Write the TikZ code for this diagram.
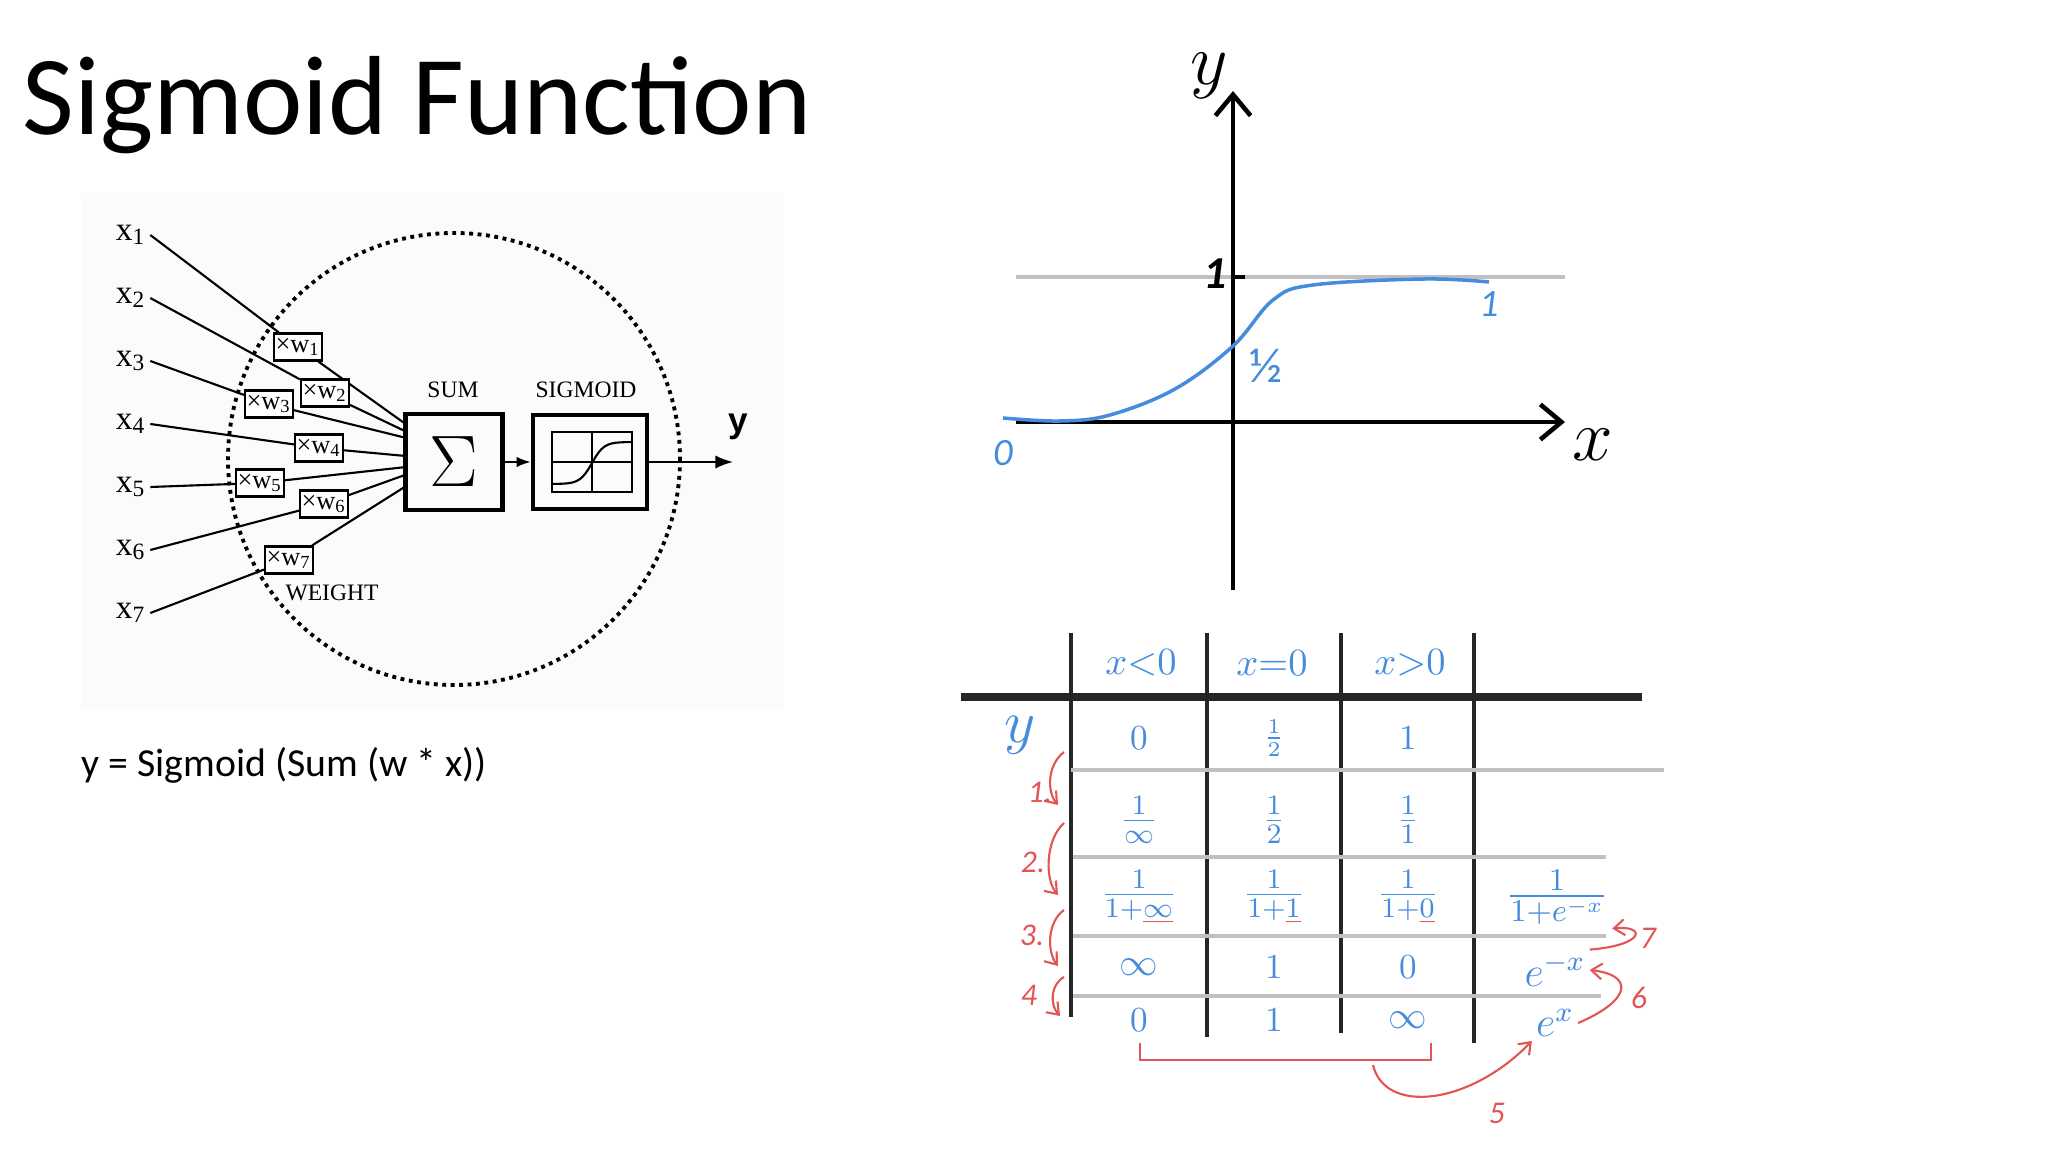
\documentclass[tikz,border=0pt]{standalone}
\usepackage{amsmath,amssymb}
\usepackage{fontspec}
\usepackage{tikz}
\usepackage{xcolor}
\usetikzlibrary{arrows.meta}
\setmainfont{Carlito}
\newfontfamily\netfont{Liberation Serif}
\newfontfamily\netsans{Liberation Sans}
\definecolor{handblue}{RGB}{70,140,220}
\definecolor{handred}{RGB}{225,85,85}
\definecolor{rulegray}{RGB}{192,192,192}
\newcommand{\redul}[1]{{\color{handred}\underline{{\color{handblue}#1}}}}

\begin{document}
\begin{tikzpicture}[x=0.01cm, y=-0.01cm,
    inp/.style={font=\netfont\fontsize{9.5}{10}\selectfont, inner sep=1pt},
    wbox/.style={draw, fill=white, semithick, font=\netfont\fontsize{7.5}{8}\selectfont,
        inner sep=0pt, minimum width=0.48cm, minimum height=0.27cm},
    caps/.style={font=\netfont\fontsize{6.7}{7}\selectfont},
    hand/.style={text=handblue, font=\fontsize{10}{11}\selectfont, inner sep=1pt},
    redarr/.style={handred, semithick, -{Straight Barb[length=3pt,width=4.5pt]}},
    redlbl/.style={text=handred, font=\fontsize{9}{9}\selectfont\itshape}]
\useasboundingbox (0,0) rectangle (2048,1152);

% Title
\node[anchor=base west, inner sep=0pt, font=\fontsize{32}{36}\selectfont] (title) at (22,135) {Sigmoid Function};

% Panel A: neuron
\begin{scope}
    \fill[black!1.5] (81,193) rectangle (784,709);
    \draw[line width=1.1pt, dash pattern=on 1.1pt off 1.3pt] (454,459) circle [radius=226];

    \node[draw, line width=1.3pt, minimum width=0.97cm, minimum height=0.96cm, inner sep=0pt,
        font=\fontsize{20}{20}\selectfont] (sum) at (454,462) {$\Sigma$};
    \node[draw, line width=1.3pt, minimum width=1.14cm, minimum height=0.94cm] (sig) at (590,462) {};
    \node[caps] (sumlbl) at (453,390) {SUM};
    \node[caps] (siglbl) at (586,390) {SIGMOID};

    % little plot in the sigmoid box
    \begin{scope}[shift={(sig.center)}]
        \draw (-38,-30) rectangle (42,30);
        \draw (2,-30) -- (2,30);
        \draw (-38,0) -- (42,0);
        \draw[semithick, domain=-37:41, samples=40] plot (\x, {22-42/(1+exp(-(\x-2)/6))});
    \end{scope}

    % inputs and weights
    \foreach \i/\px/\py/\a in {1/298/347/142, 2/325/393/148, 3/269/404/154, 4/319/448/173,
                               5/260/483/186, 6/324/504/195, 7/289/560/207}{
        \node[inp] (x\i) at (131,{235+63*(\i-1)}) {x\textsubscript{\i}};
        \node[wbox] (w\i) at (\px,\py) {×w\textsubscript{\i}};
        \draw[semithick] (x\i.east) -- (w\i) -- (sum.\a);
    }
    \node[caps] (wlbl) at (332,593) {WEIGHT};

    \draw[semithick, -{Latex[length=4pt]}] (sum) -- (sig);
    \coordinate (yend) at (733,462);
    \draw[semithick, -{Latex[length=5pt]}] (sig) -- (yend);
    \node[font=\netsans\bfseries\fontsize{10}{10}\selectfont] (yout) at (738,427) {y};

    \node[anchor=west, inner sep=0pt, font=\fontsize{11.3}{13}\selectfont] (formula) at (81,765)
        {y = Sigmoid (Sum (w * x))};
\end{scope}

% Panel B: hand-drawn sigmoid
\begin{scope}
    \draw[rulegray, line width=1pt] (1016,277) -- (1565,277);
    \draw[line width=1.3pt, -{Straight Barb[length=6pt,width=10pt]}] (1233,590) -- (1233,91);
    \draw[line width=1.3pt, -{Straight Barb[length=6pt,width=10pt]}] (1016,422) -- (1565,422);
    \draw[line width=1pt] (1233,277) -- (1245,277);
    \node[font=\fontsize{20}{20}\selectfont] (ylab) at (1209,76) {$y$};
    \node[font=\fontsize{22}{22}\selectfont] (xlab) at (1593,445) {$x$};
    \node[font=\bfseries\fontsize{13}{13}\selectfont] (one) at (1215,274) {\textit{1}};

    \draw[handblue, line width=1pt] plot[smooth, tension=0.6] coordinates
        {(1003,418) (1060,421) (1110,415) (1175,389) (1233,346) (1273,300) (1313,285) (1424,279) (1489,282)};
    \node[hand, font=\fontsize{11}{11}\selectfont] (lo) at (1003,453) {\textit{0}};
    \node[hand, font=\fontsize{11}{11}\selectfont] (hi) at (1489,304) {\textit{1}};
    \node[hand, font=\fontsize{14}{14}\selectfont] (half) at (1266,366) {½};
\end{scope}

% Panel C: table
\begin{scope}
    \draw[line width=2pt, black!85] (961,697) -- (1642,697);
    \foreach \x/\yb in {1071/1017, 1207/1037, 1341/1033, 1474/1043}
        \draw[line width=1.3pt, black!85] (\x,633) -- (\x,\yb);
    \draw[rulegray, line width=1pt] (1071,770) -- (1664,770);
    \draw[rulegray, line width=1pt] (1073,857) -- (1606,857);
    \draw[rulegray, line width=1pt] (1073,936) -- (1606,936);
    \draw[rulegray, line width=1pt] (1073,996) -- (1601,996);

    % header
    \node[hand, font=\fontsize{11}{11}\selectfont] (h1) at (1141,663) {$x{<}0$};
    \node[hand, font=\fontsize{11}{11}\selectfont] (h2) at (1272,663) {$x{=}0$};
    \node[hand, font=\fontsize{11}{11}\selectfont] (h3) at (1410,663) {$x{>}0$};
    \node[hand, font=\fontsize{16}{16}\selectfont] (yrow) at (1020,735) {$y$};

    % rows
    \node[hand] (a1) at (1139,738) {$0$};
    \node[hand, font=\fontsize{8}{8}\selectfont] (b1) at (1274,738) {$\tfrac{1}{2}$};
    \node[hand] (c1) at (1408,738) {$1$};

    \node[hand, font=\fontsize{11}{11}\selectfont] (a2) at (1139,820) {$\tfrac{1}{\infty}$};
    \node[hand, font=\fontsize{11}{11}\selectfont] (b2) at (1274,820) {$\tfrac{1}{2}$};
    \node[hand, font=\fontsize{11}{11}\selectfont] (c2) at (1408,820) {$\tfrac{1}{1}$};

    \node[hand, font=\fontsize{11}{11}\selectfont] (a3) at (1139,897) {$\tfrac{1}{1+\redul{\infty}}$};
    \node[hand, font=\fontsize{11}{11}\selectfont] (b3) at (1274,897) {$\tfrac{1}{1+\redul{1}}$};
    \node[hand, font=\fontsize{11}{11}\selectfont] (c3) at (1408,897) {$\tfrac{1}{1+\redul{0}}$};
    \node[hand, font=\fontsize{13}{13}\selectfont] (d3) at (1557,897) {$\tfrac{1}{1+e^{-x}}$};

    \node[hand, font=\fontsize{11}{11}\selectfont] (a4) at (1139,967) {$\infty$};
    \node[hand] (b4) at (1274,967) {$1$};
    \node[hand] (c4) at (1408,967) {$0$};
    \node[hand, font=\fontsize{12}{12}\selectfont] (d4) at (1555,970) {$e^{-x}$};

    \node[hand] (a5) at (1139,1020) {$0$};
    \node[hand] (b5) at (1274,1020) {$1$};
    \node[hand, font=\fontsize{11}{11}\selectfont] (c5) at (1408,1020) {$\infty$};
    \node[hand, font=\fontsize{12}{12}\selectfont] (d5) at (1555,1023) {$e^{x}$};

    % red steps
    \draw[redarr] (1064,752) .. controls (1047,765) and (1047,792) .. (1058,805);
    \draw[redarr] (1064,823) .. controls (1045,840) and (1045,880) .. (1058,895);
    \draw[redarr] (1064,910) .. controls (1047,922) and (1047,952) .. (1058,966);
    \draw[redarr] (1064,977) .. controls (1050,985) and (1050,1005) .. (1060,1016);
    \node[redlbl] (s1) at (1040,792) {1.};
    \node[redlbl] (s2) at (1033,862) {2.};
    \node[redlbl] (s3) at (1032,935) {3.};
    \node[redlbl] (s4) at (1029,995) {4};

    \draw[handred, semithick] (1140,1043) -- (1140,1060) -- (1431,1060) -- (1431,1043);
    \coordinate (brk) at (1373,1065);
    \draw[redarr] (brk) .. controls (1385,1115) and (1470,1105) .. (d5.south west);
    \node[redlbl] (s5) at (1497,1113) {5};
    \draw[redarr] (d5.east) .. controls (1632,1000) and (1634,975) .. (d4.east);
    \node[redlbl] (s6) at (1639,998) {6};
    \draw[redarr] (d4.north east) .. controls (1646,945) and (1646,925) .. (d3.south east);
    \node[redlbl] (s7) at (1648,938) {7};
\end{scope}
\end{tikzpicture}
\end{document}
